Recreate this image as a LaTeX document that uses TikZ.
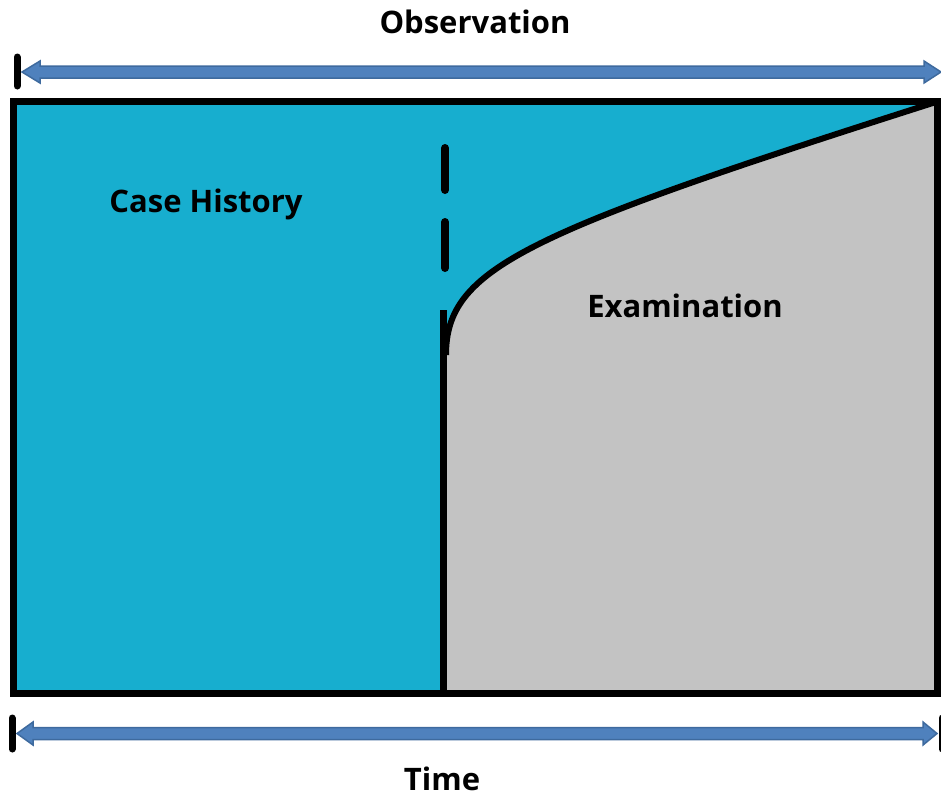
\documentclass[tikz,border=0pt]{standalone}
\usepackage{fontspec}
\setmainfont{Open Sans}
\begin{document}
\begin{tikzpicture}[x=1pt,y=-1pt,
  label/.style={font=\fontsize{31}{34}\selectfont\bfseries, text=black, inner sep=0pt},
  frame/.style={line width=7pt, draw=black, line join=miter},
  tick/.style={line width=7pt, draw=black, line cap=round},
  arrowbody/.style={fill=arrowblue, draw=arrowedge, line width=1.5pt, line join=miter}]
\definecolor{cyanfill}{HTML}{17AECF}
\definecolor{grayfill}{HTML}{C3C3C3}
\definecolor{arrowblue}{HTML}{4F81BD}
\definecolor{arrowedge}{HTML}{3E6A9E}
\useasboundingbox (0,0) rectangle (941,796);

% corners of the frame and the split point
\coordinate (tl) at (13.5,101.5);
\coordinate (tr) at (937.5,101.5);
\coordinate (br) at (937.5,693.5);
\coordinate (bl) at (13.5,693.5);
\coordinate (split) at (443,693.5);
\coordinate (knee) at (446,355);

% background fill
\fill[cyanfill] (tl) rectangle (br);
% examination region under the curve
\fill[grayfill] (split) -- (443,355) -- (knee)
  .. controls (446,268) and (525,233) .. (tr) -- (br) -- cycle;

% dividing line and boundary curve
\draw[line width=7pt] (split) -- (443,310);
\draw[line width=6pt] (knee) .. controls (446,268) and (525,233) .. (tr);
% dashed extension above
\draw[tick, line width=8pt] (445,148) -- (445,190);
\draw[tick, line width=8pt] (445,222) -- (445,268);

% outer frame
\draw[frame] (tl) rectangle (br);

% observation arrow
\draw[arrowbody] (22,72) -- (40,61) -- (40,66) -- (924,66) -- (924,61)
  -- (941,72) -- (924,83) -- (924,78) -- (40,78) -- (40,83) -- cycle;
\draw[tick] (17,57) -- (17,86);

% time arrow
\draw[arrowbody] (17,733.5) -- (33,722) -- (33,727.5) -- (923,727.5) -- (923,722)
  -- (937,733.5) -- (923,745) -- (923,739.5) -- (33,739.5) -- (33,745) -- cycle;
\draw[tick] (12,718) -- (12,749);
\draw[tick] (942,718) -- (942,749);

% labels
\node[label] (obs) at (475,22) {Observation};
\node[label, anchor=base] (time) at (442,790) {Time};
\node[label] (hist) at (206,204) {Case History};
\node[label] (exam) at (685,306) {Examination};
\end{tikzpicture}
\end{document}
